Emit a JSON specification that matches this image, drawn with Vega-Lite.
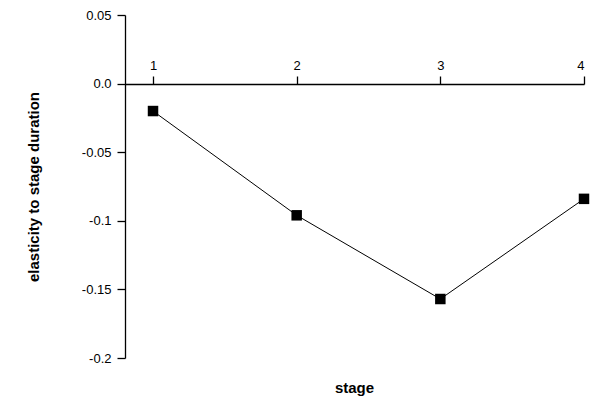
{
  "$schema": "https://vega.github.io/schema/vega-lite/v6.json",
  "width": 459,
  "height": 343,
  "autosize": "none",
  "padding": {"left": 125, "top": 15, "right": 13, "bottom": 52},
  "background": "white",
  "config": {"view": {"stroke": null}, "font": "Liberation Sans"},
  "title": {"text": "stage", "orient": "bottom", "fontSize": 15, "fontWeight": "bold", "offset": 16, "color": "black", "letterSpacing": 1.5},
  "data": {"values": [
    {"stage": 1, "e": -0.02},
    {"stage": 2, "e": -0.096},
    {"stage": 3, "e": -0.157},
    {"stage": 4, "e": -0.084}
  ]},
  "layer": [
    {
      "mark": {"type": "line", "color": "black", "strokeWidth": 1},
      "encoding": {
        "x": {"field": "stage", "type": "quantitative", "scale": {"domain": [0.805, 4], "nice": false, "zero": false},
          "axis": {"orient": "top", "offset": -69, "values": [1, 2, 3, 4], "format": "d", "title": null, "grid": false,
            "domainColor": "black", "domainWidth": 1.3, "tickColor": "black", "tickWidth": 1.3, "tickSize": 8, "labelFontSize": 13, "labelColor": "black", "labelPadding": 4}},
        "y": {"field": "e", "type": "quantitative", "scale": {"domain": [-0.2, 0.05], "nice": false},
          "axis": {"values": [0.05, 0, -0.05, -0.1, -0.15, -0.2], "labelExpr": "datum.value == 0 ? '0.0' : replace(format(datum.value, ''), '\u2212', '-')",
            "title": "elasticity to stage duration", "titleFontSize": 15, "titleFontWeight": "bold", "titleColor": "black", "titlePadding": 40,
            "grid": false, "domainColor": "black", "domainWidth": 1.3, "tickColor": "black", "tickWidth": 1.3, "tickSize": 8, "labelFontSize": 13, "labelColor": "black", "labelPadding": 6}}
      }
    },
    {
      "mark": {"type": "square", "color": "black", "opacity": 1, "size": 110},
      "encoding": {
        "x": {"field": "stage", "type": "quantitative"},
        "y": {"field": "e", "type": "quantitative"}
      }
    }
  ]
}
